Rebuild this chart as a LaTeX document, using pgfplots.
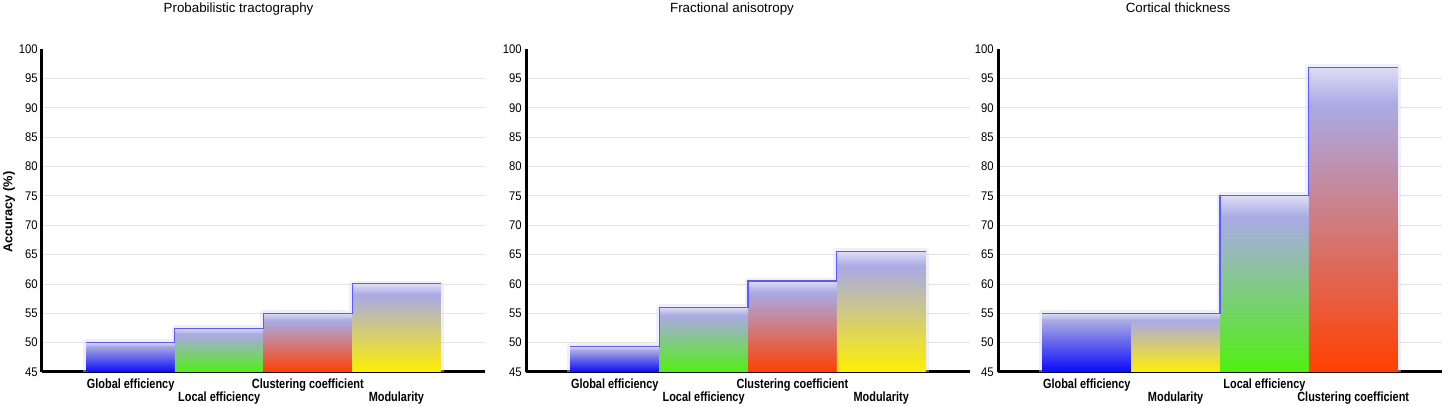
\documentclass[border=0pt]{standalone}
\usepackage{pgfplots}
\pgfplotsset{compat=1.18}
\usepackage{fontspec}
\setmainfont{Liberation Sans}
\newfontfamily\tnfont[FakeStretch=0.9]{Liberation Sans}
\newfontfamily\lbfont[FakeStretch=0.82]{Liberation Sans}
\definecolor{cb}{HTML}{0A0AFF}
\definecolor{cg}{HTML}{50F010}
\definecolor{cr}{HTML}{FF4000}
\definecolor{cy}{HTML}{FFF000}
\definecolor{lav}{HTML}{AAAAE4}
\definecolor{lite}{HTML}{DCDCF6}
\definecolor{stepc}{HTML}{5A5AFF}
\pgfdeclareverticalshading{shb}{100bp}{color(0bp)=(cb); color(25bp)=(cb); color(69bp)=(lav); color(75bp)=(lite); color(100bp)=(lite)}
\pgfdeclareverticalshading{shg}{100bp}{color(0bp)=(cg); color(25bp)=(cg); color(69bp)=(lav); color(75bp)=(lite); color(100bp)=(lite)}
\pgfdeclareverticalshading{shr}{100bp}{color(0bp)=(cr); color(25bp)=(cr); color(69bp)=(lav); color(75bp)=(lite); color(100bp)=(lite)}
\pgfdeclareverticalshading{shy}{100bp}{color(0bp)=(cy); color(25bp)=(cy); color(69bp)=(lav); color(75bp)=(lite); color(100bp)=(lite)}
\pgfplotsset{
  panel/.style={
    anchor=south west, scale only axis, width=333pt, height=242.25pt,
    xmin=-0.5, xmax=4.5, ymin=45, ymax=100,
    axis lines*=left, axis line style={line width=2.25pt, black},
    ytick={50,55,...,95}, extra y ticks={45,100}, extra y tick style={grid=none},
    ymajorgrids, grid style={gray!22, line width=0.5pt},
    major tick length=0pt,
    /pgf/number format/assume math mode=true,
    yticklabel style={font=\tnfont\fontsize{9.4}{10}\selectfont, inner sep=0pt, xshift=-3pt, anchor=east},
    xticklabel style={font=\lbfont\bfseries\fontsize{10}{11}\selectfont, inner sep=0pt, anchor=north, yshift=-4.6pt},
    xtick={0.5,2.5},
    extra x ticks={1.5,3.5},
    extra x tick style={xticklabel style={yshift=-9.75pt}},
  },
  bar/.style={draw=none, mark=none, shading=#1},
  halo/.style={draw=lite, line width=5pt, opacity=0.45, mark=none, line join=round},
  step/.style={const plot, color=stepc, line width=0.85pt, mark=none},
}
\begin{document}
\begin{tikzpicture}
% Panel 1
\begin{axis}[panel, at={(31.5pt,26.25pt)}, width=332.25pt,
  xticklabels={Global efficiency, Clustering coefficient},
  extra x tick labels={Local efficiency, Modularity}]
\addplot[halo] coordinates {(0,45) (0,50) (1,50) (1,52.4) (2,52.4) (2,55) (3,55) (3,60) (4,60) (4,45)};
\addplot[bar=shb] coordinates {(0,45) (0,50) (1,50) (1,45)} -- cycle;
\addplot[bar=shg] coordinates {(1,45) (1,52.4) (2,52.4) (2,45)} -- cycle;
\addplot[bar=shr] coordinates {(2,45) (2,55) (3,55) (3,45)} -- cycle;
\addplot[bar=shy] coordinates {(3,45) (3,60) (4,60) (4,45)} -- cycle;
\addplot[step] coordinates {(0,50) (1,52.4) (2,55) (3,60) (4,60)};
\end{axis}
% Panel 2
\begin{axis}[panel, at={(394.5pt,26.25pt)},
  xticklabels={Global efficiency, Clustering coefficient},
  extra x tick labels={Local efficiency, Modularity}]
\addplot[halo] coordinates {(0,45) (0,49.3) (1,49.3) (1,56) (2,56) (2,60.5) (3,60.5) (3,65.5) (4,65.5) (4,45)};
\addplot[bar=shb] coordinates {(0,45) (0,49.3) (1,49.3) (1,45)} -- cycle;
\addplot[bar=shg] coordinates {(1,45) (1,56) (2,56) (2,45)} -- cycle;
\addplot[bar=shr] coordinates {(2,45) (2,60.5) (3,60.5) (3,45)} -- cycle;
\addplot[bar=shy] coordinates {(3,45) (3,65.5) (4,65.5) (4,45)} -- cycle;
\addplot[step] coordinates {(0,49.3) (1,56) (2,60.5) (3,65.5) (4,65.5)};
\end{axis}
% Panel 3
\begin{axis}[panel, at={(748.5pt,26.25pt)},
  xticklabels={Global efficiency, Local efficiency},
  extra x tick labels={Modularity, Clustering coefficient}]
\addplot[halo] coordinates {(0,45) (0,55) (1,55) (2,55) (2,75) (3,75) (3,96.8) (4,96.8) (4,45)};
\addplot[bar=shb] coordinates {(0,45) (0,55) (1,55) (1,45)} -- cycle;
\addplot[bar=shy] coordinates {(1,45) (1,55) (2,55) (2,45)} -- cycle;
\addplot[bar=shg] coordinates {(2,45) (2,75) (3,75) (3,45)} -- cycle;
\addplot[bar=shr] coordinates {(3,45) (3,96.8) (4,96.8) (4,45)} -- cycle;
\addplot[step] coordinates {(0,55) (1,55) (2,75) (3,96.8) (4,96.8)};
\end{axis}
\node[anchor=base, font=\fontsize{10}{12}\selectfont] at (178.9pt,295.5pt) {Probabilistic tractography};
\node[anchor=base, font=\fontsize{10}{12}\selectfont] at (549pt,295.5pt) {Fractional anisotropy};
\node[anchor=base, font=\fontsize{10}{12}\selectfont] at (883.5pt,295.5pt) {Cortical thickness};
\node[rotate=90, font=\bfseries\fontsize{9.6}{11}\selectfont] at (6.75pt,146.25pt) {Accuracy (\%)};
\pgfresetboundingbox
\path[use as bounding box] (0,0) rectangle (1084.5pt,305.25pt);
\end{tikzpicture}
\end{document}
